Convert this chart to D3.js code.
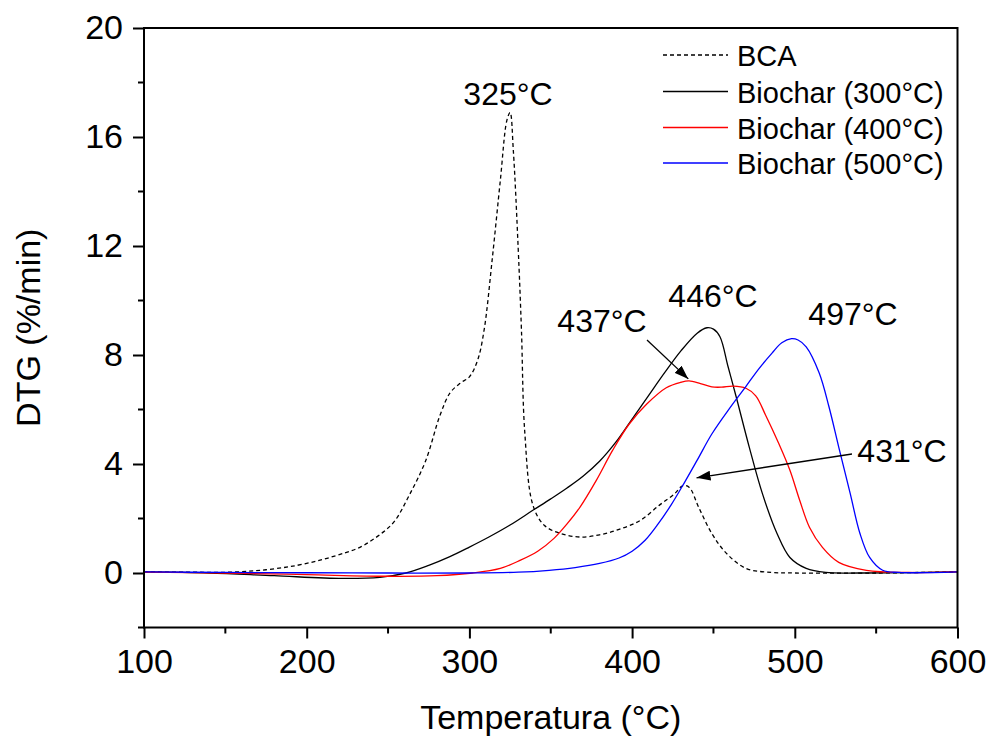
<!DOCTYPE html>
<html>
<head>
<meta charset="utf-8">
<script src="https://cdn.jsdelivr.net/npm/d3@7/dist/d3.min.js"></script>
<style>
body { margin: 0; background: #fff; }
svg { display: block; font-family: "Liberation Sans", Arial, sans-serif; }
</style>
</head>
<body>
<svg id="chart" width="989" height="738"></svg>
<script>
// ---- Data ----
const bcaT = [100,130,153,175,194,210,224,233,240,247,254,263,273,282,288,294,300,305,309,314,319,323,325,327,330,332,334,339,346,356,368,380,392,405,417,426,431,435,441,449,458,470,486,500,550,600];
const bcaV = [0.04,0.03,0.03,0.12,0.28,0.5,0.75,0.95,1.2,1.5,1.9,2.85,4.1,5.8,6.6,6.95,7.2,7.8,8.9,11.5,14.4,16.6,16.9,15.5,11.9,8.9,5.2,2.5,1.75,1.45,1.32,1.4,1.6,1.93,2.5,2.9,3.2,3.15,2.4,1.45,0.72,0.17,0.02,0.0,0.0,0.04];

const b300T = [100,140,180,222,245,261,275,288,300,312,325,339,350,360,370,380,390,400,410,420,430,440,446,450,454,459,464,472,480,489,497,507,519,540,600];
const b300V = [0.04,0.0,-0.1,-0.2,-0.16,0.0,0.28,0.6,0.95,1.32,1.76,2.3,2.72,3.12,3.56,4.1,4.8,5.65,6.5,7.35,8.15,8.8,9.0,8.95,8.67,7.57,6.46,4.62,2.93,1.46,0.57,0.17,0.02,0.0,0.04];

const b400T = [100,150,200,250,280,302,319,331,342,352,360,368,378,388,398,409,421,430,435,442,449,455,462,470,476,482,490,497,503,509,517,527,544,570,600];
const b400V = [0.03,0.0,-0.06,-0.12,-0.1,0.0,0.17,0.46,0.8,1.27,1.8,2.42,3.4,4.5,5.45,6.2,6.8,7.0,7.05,6.95,6.83,6.82,6.86,6.78,6.5,5.8,4.77,3.77,2.67,1.68,0.94,0.39,0.1,0.02,0.04];

const b500T = [100,150,200,250,300,330,349,365,380,392,400,408,416,424,432,440,449,460,470,478,486,492,498,502,507,515,521,527,534,540,546,554,564,600];
const b500V = [0.04,0.02,0.01,0.0,0.0,0.03,0.1,0.2,0.35,0.55,0.8,1.2,1.8,2.5,3.3,4.14,5.1,6.05,6.85,7.5,8.07,8.45,8.6,8.55,8.3,7.34,6.1,4.62,2.93,1.46,0.57,0.1,0.02,0.04];

const seriesNames = ["BCA", "Biochar (300°C)", "Biochar (400°C)", "Biochar (500°C)"];
const seriesColors = ["#000000", "#000000", "#ff0000", "#0000ff"];
const seriesDash = ["4,3", null, null, null];

const xTicks = [100, 200, 300, 400, 500, 600];
const yTicks = [0, 4, 8, 12, 16, 20];

const peakLabels = ["325°C", "446°C", "497°C", "437°C", "431°C"];
const peakT = [325, 446, 497, 437, 431];
const peakV = [16.9, 9.0, 8.6, 7.05, 3.2];

// ---- Layout ----
const svg = d3.select("#chart");
const L = 144, R = 957.5, T = 28, B = 627.5;
const x = d3.scaleLinear().domain([100, 600]).range([L, R]);
const y = d3.scaleLinear().domain([-2, 20]).range([B, T]);

const series = [
  bcaT.map((t, i) => [t, bcaV[i]]),
  b300T.map((t, i) => [t, b300V[i]]),
  b400T.map((t, i) => [t, b400V[i]]),
  b500T.map((t, i) => [t, b500V[i]])
];

const line = d3.line().x(d => x(d[0])).y(d => y(d[1])).curve(d3.curveCatmullRom.alpha(0.5));

series.forEach((s, i) => {
  svg.append("path").datum(s)
    .attr("d", line)
    .attr("fill", "none")
    .attr("stroke", seriesColors[i])
    .attr("stroke-width", 1.3)
    .attr("stroke-dasharray", seriesDash[i]);
});

// ---- Axes ----
const fontTick = 34;
const xAxis = d3.axisBottom(x).tickValues(xTicks).tickSize(11).tickPadding(10).tickFormat(d3.format("d"));
const gx = svg.append("g").attr("transform", `translate(0,${B})`).call(xAxis);
gx.select(".domain").remove();
gx.selectAll("line").attr("stroke-width", 2);
gx.selectAll("text").attr("font-size", fontTick).attr("font-family", "Liberation Sans, Arial, sans-serif").attr("fill", "#000");

const xMinor = d3.range(150, 600, 100);
svg.append("g").selectAll("line").data(xMinor).join("line")
  .attr("x1", d => x(d)).attr("x2", d => x(d))
  .attr("y1", B).attr("y2", B + 6)
  .attr("stroke", "#000").attr("stroke-width", 2);

const yAxis = d3.axisLeft(y).tickValues(yTicks).tickSize(11).tickPadding(10).tickFormat(d3.format("d"));
const gy = svg.append("g").attr("transform", `translate(${L},0)`).call(yAxis);
gy.select(".domain").remove();
gy.selectAll("line").attr("stroke-width", 2);
gy.selectAll("text").attr("font-size", fontTick).attr("font-family", "Liberation Sans, Arial, sans-serif").attr("fill", "#000");

const yMinor = d3.range(-2, 20, 4);
svg.append("g").selectAll("line").data(yMinor).join("line")
  .attr("x1", L - 6).attr("x2", L)
  .attr("y1", d => y(d)).attr("y2", d => y(d))
  .attr("stroke", "#000").attr("stroke-width", 2);

// Frame
svg.append("rect").attr("x", L).attr("y", T).attr("width", R - L).attr("height", B - T)
  .attr("fill", "none").attr("stroke", "#000").attr("stroke-width", 2);

// Axis titles
svg.append("text").attr("x", (L + R) / 2).attr("y", 729)
  .attr("text-anchor", "middle").attr("font-size", 34).text("Temperatura (°C)");
svg.append("text").attr("transform", `translate(40,${(T + B) / 2}) rotate(-90)`)
  .attr("text-anchor", "middle").attr("font-size", 34).text("DTG (%/min)");

// ---- Legend ----
const legY = [55, 91.5, 127.5, 163];
const leg = svg.append("g");
seriesNames.forEach((name, i) => {
  leg.append("line").attr("x1", 663).attr("x2", 728).attr("y1", legY[i]).attr("y2", legY[i])
    .attr("stroke", seriesColors[i]).attr("stroke-width", 1.3).attr("stroke-dasharray", seriesDash[i]);
  leg.append("text").attr("x", 737).attr("y", legY[i] + 11).attr("font-size", 29).text(name);
});

// ---- Annotations ----
const defs = svg.append("defs");
defs.append("marker").attr("id", "arr").attr("viewBox", "0 0 14 10").attr("refX", 14).attr("refY", 5)
  .attr("markerWidth", 14).attr("markerHeight", 10).attr("markerUnits", "userSpaceOnUse").attr("orient", "auto")
  .append("path").attr("d", "M0,0 L14,5 L0,10 Z").attr("fill", "#000");

const labelPos = [[508, 105], [713, 307], [853, 325], [602, 332], [902, 462]];
peakLabels.forEach((lab, i) => {
  svg.append("text").attr("x", labelPos[i][0]).attr("y", labelPos[i][1])
    .attr("text-anchor", "middle").attr("font-size", 32).text(lab);
});

svg.append("line").attr("x1", 647).attr("y1", 340)
  .attr("x2", x(peakT[3]) - 4).attr("y2", y(peakV[3]) - 2)
  .attr("stroke", "#000").attr("stroke-width", 1.3).attr("marker-end", "url(#arr)");
svg.append("line").attr("x1", 852).attr("y1", 454)
  .attr("x2", x(peakT[4]) + 14).attr("y2", y(peakV[4]) - 8)
  .attr("stroke", "#000").attr("stroke-width", 1.3).attr("marker-end", "url(#arr)");
</script>
</body>
</html>
